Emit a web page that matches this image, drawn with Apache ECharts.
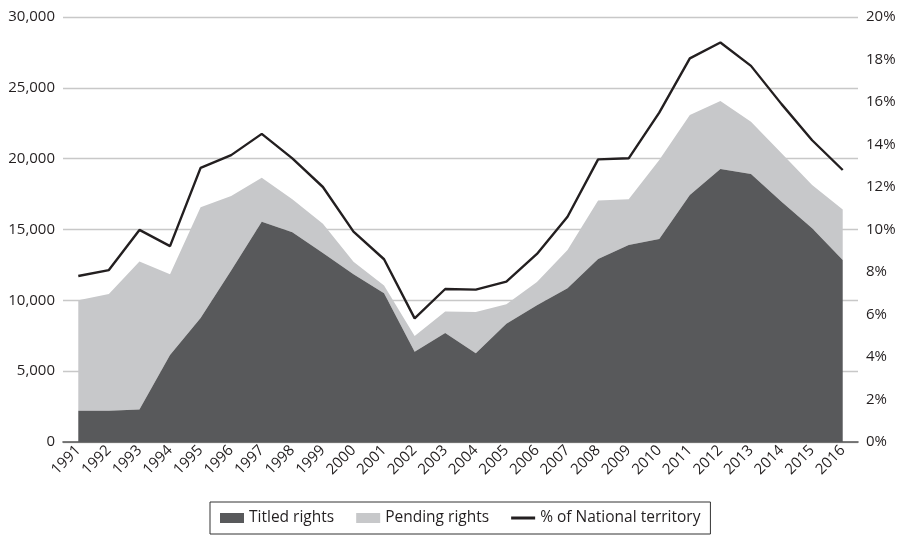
<!DOCTYPE html>
<html>
<head>
<meta charset="utf-8">
<script src="https://cdn.jsdelivr.net/npm/echarts@6/dist/echarts.min.js"></script>
<style>
html,body{margin:0;padding:0;background:#fff;}
#chart{width:905px;height:536px;}
</style>
</head>
<body>
<div id="chart"></div>
<script>
const years = ['1991','1992','1993','1994','1995','1996','1997','1998','1999','2000','2001','2002','2003','2004','2005','2006','2007','2008','2009','2010','2011','2012','2013','2014','2015','2016'];
const titledRights = [2200, 2200, 2300, 6150, 8750, 12100, 15550, 14800, 13350, 11850, 10500, 6370, 7700, 6260, 8350, 9650, 10850, 12920, 13900, 14330, 17440, 19270, 18920, 16960, 15080, 12850];
const pendingRights = [7800, 8250, 10450, 5700, 7820, 5270, 3110, 2330, 2050, 880, 550, 1110, 1520, 2920, 1380, 1650, 2700, 4130, 3230, 5570, 5640, 4800, 3690, 3420, 3060, 3570];
const pctNational = [7.81, 8.09, 9.98, 9.22, 12.9, 13.5, 14.5, 13.35, 12.0, 9.9, 8.6, 5.82, 7.2, 7.17, 7.55, 8.85, 10.6, 13.3, 13.35, 15.5, 18.05, 18.8, 17.7, 15.9, 14.2, 12.8];
const leftTicks = {min: 0, max: 30000, interval: 5000};
const rightTicks = {min: 0, max: 20, interval: 2};

const FONT = 'Open Sans';
const TXT = '#231f20';
const LINE_ICON = 'path://M0,0H0.05V0.05H0Z M0,3.6H24V6.4H0Z M23.95,9.95H24V10H23.95Z';
const chart = echarts.init(document.getElementById('chart'));
chart.setOption({
  animation: false,
  textStyle: {fontFamily: FONT},
  grid: {left: 63, right: 47, top: 17, bottom: 94},
  legend: {
    left: 210, top: 502,
    padding: [8, 10],
    borderColor: '#333', borderWidth: 1,
    itemWidth: 24, itemHeight: 10, itemGap: 22,
    textStyle: {fontFamily: FONT, fontSize: 15.5, color: TXT},
    data: [
      {name: 'Titled rights', icon: 'rect'},
      {name: 'Pending rights', icon: 'rect'},
      {name: '% of National territory', icon: LINE_ICON, itemStyle: {color: '#231f20'}}
    ]
  },
  xAxis: {
    type: 'category',
    data: years,
    boundaryGap: true,
    axisLine: {lineStyle: {color: '#555', width: 1.6}},
    axisTick: {show: false},
    axisLabel: {rotate: 45, fontFamily: FONT, fontSize: 15, color: TXT, interval: 0, margin: 6}
  },
  yAxis: [
    {
      type: 'value', min: leftTicks.min, max: leftTicks.max, interval: leftTicks.interval,
      axisLine: {show: false}, axisTick: {show: false},
      splitLine: {lineStyle: {color: '#c8c8c8', width: 1.3}},
      axisLabel: {fontFamily: FONT, fontSize: 15, color: TXT, margin: 8,
        formatter: v => v.toLocaleString('en-US')}
    },
    {
      type: 'value', min: rightTicks.min, max: rightTicks.max, interval: rightTicks.interval,
      axisLine: {show: false}, axisTick: {show: false},
      splitLine: {show: false},
      axisLabel: {fontFamily: FONT, fontSize: 15, color: TXT, margin: 8, formatter: '{value}%'}
    }
  ],
  series: [
    {
      name: 'Titled rights', type: 'line', stack: 'rights', data: titledRights,
      symbol: 'none', lineStyle: {width: 0}, itemStyle: {color: '#58595b'},
      areaStyle: {color: '#58595b', opacity: 1}, z: 2
    },
    {
      name: 'Pending rights', type: 'line', stack: 'rights', data: pendingRights,
      symbol: 'none', lineStyle: {width: 0}, itemStyle: {color: '#c7c8ca'},
      areaStyle: {color: '#c7c8ca', opacity: 1}, z: 1
    },
    {
      name: '% of National territory', type: 'line', yAxisIndex: 1, data: pctNational,
      symbol: 'none', itemStyle: {color: '#231f20'},
      lineStyle: {color: '#231f20', width: 2.4}, z: 3
    }
  ]
});
</script>
</body>
</html>
